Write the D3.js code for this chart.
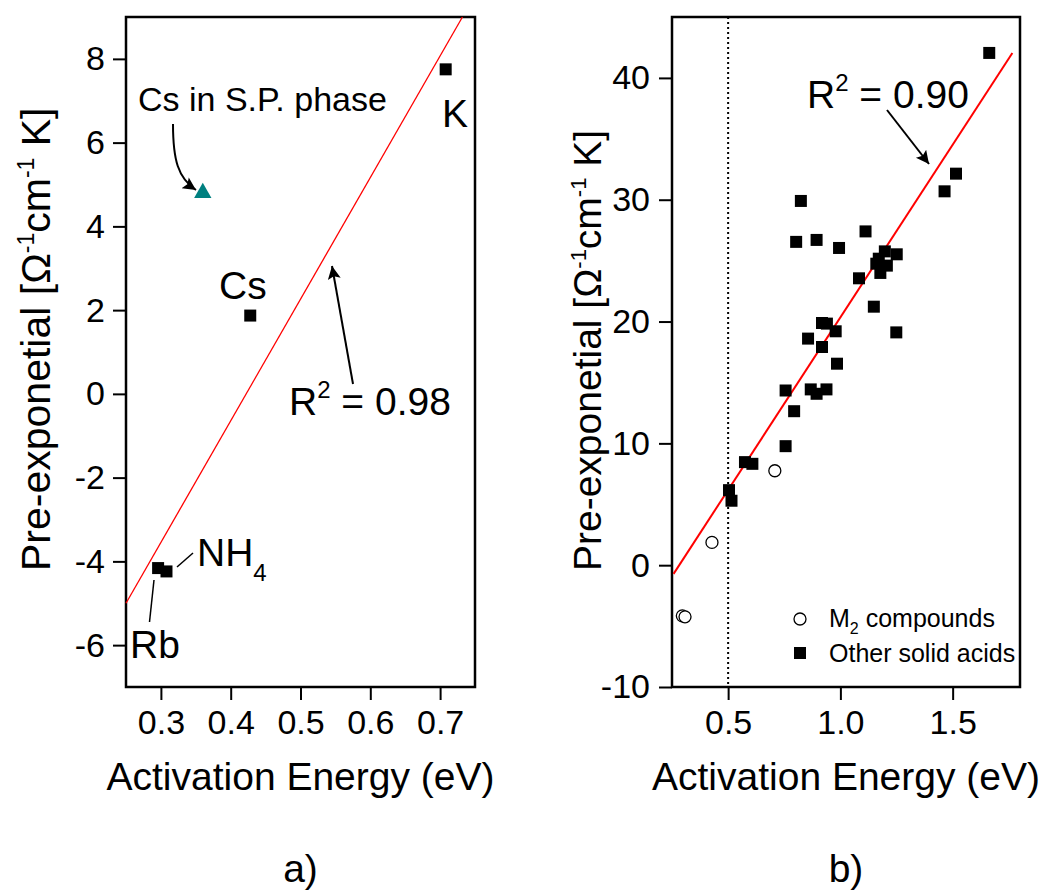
<!DOCTYPE html>
<html>
<head>
<meta charset="utf-8">
<script src="https://cdn.jsdelivr.net/npm/d3@7"></script>
<style>
  body { margin: 0; background: #fff; }
  svg { display: block; font-family: "Liberation Sans", Arial, sans-serif; }
</style>
</head>
<body>
<div id="chart"></div>
<script>
// ---- data ----

// panel a) : M2 compounds, pre-exponential vs activation energy
const m2Names = ['Rb', 'NH4', 'Cs', 'K']
const m2Ea = [0.296, 0.308, 0.428, 0.708]
const m2Pre = [-4.16, -4.24, 1.87, 7.75]

// Cs in superprotonic phase
const spEa = [0.36]
const spPre = [4.8]

// linear fit end points, panel a)
const fitAEa = [0.25, 0.732]
const fitAPre = [-5.0, 9.0]

// panel b) : other solid acids
const otherEa = [1.663, 1.515, 1.464, 0.824, 1.112, 0.894, 0.803, 0.994, 1.198, 1.251,
  1.171, 1.160, 1.207, 1.178, 1.083, 1.149, 0.918, 0.940, 0.979, 1.249,
  0.856, 0.918, 0.985, 0.868, 0.938, 0.756, 0.894, 0.794, 0.756, 0.575,
  0.608, 0.504, 0.515]
const otherPre = [42.05, 32.14, 30.69, 29.9, 27.4, 26.7, 26.54, 26.04, 25.76, 25.52,
  25.16, 24.75, 24.59, 23.99, 23.55, 21.22, 19.88, 19.83, 19.2, 19.11,
  18.6, 17.91, 16.54, 14.43, 14.43, 14.34, 14.07, 12.64, 9.77, 8.46,
  8.32, 6.16, 5.29]

// linear fit end points, panel b)
const fitBEa = [0.257, 1.766]
const fitBPre = [-0.71, 42.05]
const cutoffEa = 0.5

// axis ticks
const aXMajor = [0.3, 0.4, 0.5, 0.6, 0.7]
const aXMinor = [0.25, 0.35, 0.45, 0.55, 0.65, 0.75]
const aYMajor = [-6, -4, -2, 0, 2, 4, 6, 8]
const aYMinor = [-7, -5, -3, -1, 1, 3, 5, 7, 9]
const bXMajor = [0.5, 1.0, 1.5]
const bXMinor = [0.25, 0.75, 1.25, 1.75]
const bYMajor = [-10, 0, 10, 20, 30, 40]
const bYMinor = [-5, 5, 15, 25, 35, 45]

const legendLabels = ['compounds', 'Other solid acids']

// ---- drawing ----

const W = 1044, H = 892
const svg = d3.select('#chart').append('svg')
  .attr('width', W)
  .attr('height', H)

const defs = svg.append('defs')
defs.append('marker')
  .attr('id', 'head')
  .attr('viewBox', '0 0 10 10')
  .attr('refX', 10)
  .attr('refY', 5)
  .attr('markerWidth', 22)
  .attr('markerHeight', 13)
  .attr('markerUnits', 'userSpaceOnUse')
  .attr('orient', 'auto')
  .append('path')
    .attr('d', 'M0,0 L10,5 L0,10 L2,5 Z')
    .attr('fill', '#000')

const tickFont = 34
// plain hyphen for negatives, like the original
const fmtInt = v => String(v)
const fmtOne = v => v.toFixed(1)

const drawAxes = (g, x, y, xMajor, xMinor, yMajor, yMinor, xFmt, yFmt, yPad) => {
  const [x0, x1] = x.range()
  const [y0, y1] = y.range()

  const bottom = g.append('g').attr('transform', 'translate(0,' + y0 + ')')
  bottom.call(d3.axisBottom(x).tickValues(xMinor).tickSize(7).tickFormat(''))
  bottom.call(d3.axisBottom(x).tickValues(xMajor).tickSize(13).tickPadding(10).tickFormat(xFmt))

  const left = g.append('g').attr('transform', 'translate(' + x0 + ',0)')
  left.call(d3.axisLeft(y).tickValues(yMinor).tickSize(7).tickFormat(''))
  left.call(d3.axisLeft(y).tickValues(yMajor).tickSize(13).tickPadding(yPad).tickFormat(yFmt))

  g.selectAll('.domain').remove()
  g.selectAll('.tick line').attr('stroke', '#000').attr('stroke-width', 2)
  g.selectAll('.tick text')
    .attr('fill', '#000')
    .style('font-size', tickFont + 'px')
    .style('font-family', '"Liberation Sans", Arial, sans-serif')

  g.append('rect')
    .attr('x', x0)
    .attr('y', y1)
    .attr('width', x1 - x0)
    .attr('height', y0 - y1)
    .attr('fill', 'none')
    .attr('stroke', '#000')
    .attr('stroke-width', 2.5)
}

const yTitle = (g, cx, cy, size) => {
  const t = g.append('text')
    .attr('transform', 'translate(' + cx + ',' + cy + ') rotate(-90)')
    .attr('text-anchor', 'start')
    .style('font-size', size + 'px')
  const sup = Math.round(size * 0.56)
  const lift = Math.round(size * 0.38)
  t.append('tspan').text('Pre-exponetial [\u03A9')
  t.append('tspan').attr('dy', -lift).style('font-size', sup + 'px').text('-1')
  t.append('tspan').attr('dy', lift).text('cm')
  t.append('tspan').attr('dy', -lift).style('font-size', sup + 'px').text('-1')
  t.append('tspan').attr('dy', lift).text(' K]')
}

const rSquared = (g, x, yb, value) => {
  const t = g.append('text')
    .attr('x', x)
    .attr('y', yb)
    .style('font-size', '39px')
  t.append('tspan').text('R')
  t.append('tspan').attr('dy', -17).style('font-size', '24px').text('2')
  t.append('tspan').attr('dy', 17).text(' = ' + value)
}

const square = d3.symbol().type(d3.symbolSquare).size(144)

// ---------- panel a ----------
const ga = svg.append('g')
const xa = d3.scaleLinear().domain([0.25, 0.75]).range([126, 475])
const ya = d3.scaleLinear().domain([-7, 9]).range([687, 17])

drawAxes(ga, xa, ya, aXMajor, aXMinor, aYMajor, aYMinor, fmtOne, fmtInt, 8)

ga.append('line')
  .attr('x1', xa(fitAEa[0])).attr('y1', ya(fitAPre[0]))
  .attr('x2', xa(fitAEa[1])).attr('y2', ya(fitAPre[1]))
  .attr('stroke', '#ff0000')
  .attr('stroke-width', 1.3)

ga.selectAll('.m2')
  .data(m2Ea)
  .enter()
  .append('path')
    .attr('class', 'm2')
    .attr('d', square)
    .attr('transform', (d, i) => 'translate(' + xa(d) + ',' + ya(m2Pre[i]) + ')')
    .attr('fill', '#000')

ga.selectAll('.sp')
  .data(spEa)
  .enter()
  .append('path')
    .attr('class', 'sp')
    .attr('d', d3.symbol().type(d3.symbolTriangle).size(130))
    .attr('transform', (d, i) => 'translate(' + xa(d) + ',' + ya(spPre[i]) + ')')
    .attr('fill', '#008080')

// annotations a)
ga.append('text').attr('x', 138).attr('y', 111).style('font-size', '34px').text('Cs in S.P. phase')
ga.append('path')
  .attr('d', 'M173,124 C173,160 178,178 196,190')
  .attr('fill', 'none').attr('stroke', '#000').attr('stroke-width', 2)
  .attr('marker-end', 'url(#head)')

ga.append('text').attr('x', 442).attr('y', 127).style('font-size', '39px').text(m2Names[3])
ga.append('text').attr('x', 219).attr('y', 299).style('font-size', '39px').text(m2Names[2])

rSquared(ga, 289, 415, '0.98')
ga.append('line')
  .attr('x1', 353).attr('y1', 384).attr('x2', 332).attr('y2', 266)
  .attr('stroke', '#000').attr('stroke-width', 2)
  .attr('marker-end', 'url(#head)')

const nh = ga.append('text').attr('x', 197).attr('y', 566).style('font-size', '39px')
nh.append('tspan').text('NH')
nh.append('tspan').attr('dy', 15).style('font-size', '24px').text('4')
ga.append('line')
  .attr('x1', 177).attr('y1', 567).attr('x2', 193).attr('y2', 553)
  .attr('stroke', '#000').attr('stroke-width', 1.5)

ga.append('text').attr('x', 130).attr('y', 658).style('font-size', '39px').text(m2Names[0])
ga.append('line')
  .attr('x1', 154).attr('y1', 580).attr('x2', 149.5).attr('y2', 622)
  .attr('stroke', '#000').attr('stroke-width', 1.5)

yTitle(ga, 50, 571, 41)
ga.append('text')
  .attr('x', (126 + 475) / 2).attr('y', 790)
  .attr('text-anchor', 'middle')
  .style('font-size', '39px')
  .text('Activation Energy (eV)')
ga.append('text')
  .attr('x', (126 + 475) / 2).attr('y', 882)
  .attr('text-anchor', 'middle')
  .style('font-size', '39px')
  .text('a)')

// ---------- panel b ----------
const gb = svg.append('g')
const xb = d3.scaleLinear().domain([0.25, 1.8]).range([672, 1020])
const yb = d3.scaleLinear().domain([-10, 45]).range([687, 17])

drawAxes(gb, xb, yb, bXMajor, bXMinor, bYMajor, bYMinor, fmtOne, fmtInt, 9)

gb.append('line')
  .attr('x1', xb(cutoffEa)).attr('y1', yb(45))
  .attr('x2', xb(cutoffEa)).attr('y2', yb(-10))
  .attr('stroke', '#000')
  .attr('stroke-width', 2)
  .attr('stroke-dasharray', '2,3')

gb.append('line')
  .attr('x1', xb(fitBEa[0])).attr('y1', yb(fitBPre[0]))
  .attr('x2', xb(fitBEa[1])).attr('y2', yb(fitBPre[1]))
  .attr('stroke', '#ff0000')
  .attr('stroke-width', 2)

gb.selectAll('.other')
  .data(otherEa)
  .enter()
  .append('path')
    .attr('class', 'other')
    .attr('d', square)
    .attr('transform', (d, i) => 'translate(' + xb(d) + ',' + yb(otherPre[i]) + ')')
    .attr('fill', '#000')

gb.selectAll('.m2b')
  .data(m2Ea)
  .enter()
  .append('circle')
    .attr('class', 'm2b')
    .attr('cx', d => xb(d))
    .attr('cy', (d, i) => yb(m2Pre[i]))
    .attr('r', 6)
    .attr('fill', '#fff')
    .attr('stroke', '#000')
    .attr('stroke-width', 1.3)

rSquared(gb, 807, 108, '0.90')
gb.append('line')
  .attr('x1', 887).attr('y1', 110).attr('x2', 929).attr('y2', 164)
  .attr('stroke', '#000').attr('stroke-width', 2)
  .attr('marker-end', 'url(#head)')

// legend
gb.append('circle')
  .attr('cx', 800).attr('cy', 619).attr('r', 6)
  .attr('fill', '#fff').attr('stroke', '#000').attr('stroke-width', 1.3)
const lg1 = gb.append('text').attr('x', 829).attr('y', 627).style('font-size', '25px')
lg1.append('tspan').text('M')
lg1.append('tspan').attr('dy', 7).style('font-size', '16px').text('2')
lg1.append('tspan').attr('dy', -7).text(' ' + legendLabels[0])

gb.append('path')
  .attr('d', square)
  .attr('transform', 'translate(800,653)')
  .attr('fill', '#000')
gb.append('text').attr('x', 829).attr('y', 662).style('font-size', '25px').text(legendLabels[1])

yTitle(gb, 601, 571, 39)
gb.append('text')
  .attr('x', (672 + 1020) / 2).attr('y', 790)
  .attr('text-anchor', 'middle')
  .style('font-size', '39px')
  .text('Activation Energy (eV)')
gb.append('text')
  .attr('x', (672 + 1020) / 2).attr('y', 882)
  .attr('text-anchor', 'middle')
  .style('font-size', '39px')
  .text('b)')
</script>
</body>
</html>
